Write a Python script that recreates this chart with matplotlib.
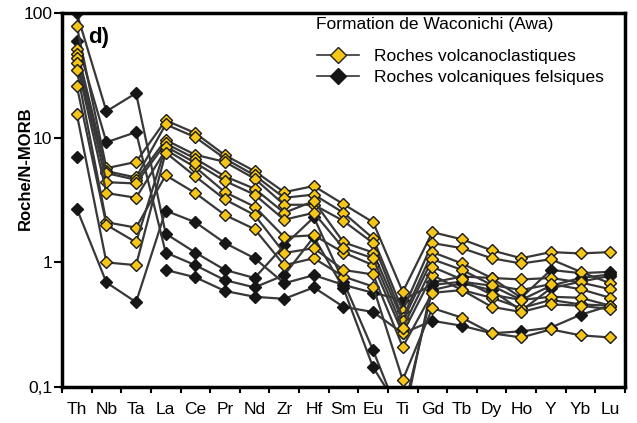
import numpy as np
import matplotlib
matplotlib.use('Agg')
import matplotlib.pyplot as plt
from matplotlib.lines import Line2D

plt.rcParams['font.family'] = ['Liberation Sans', 'DejaVu Sans']

nan = np.nan

elements = ['Th', 'Nb', 'Ta', 'La', 'Ce', 'Pr', 'Nd', 'Zr', 'Hf', 'Sm',
            'Eu', 'Ti', 'Gd', 'Tb', 'Dy', 'Ho', 'Y', 'Yb', 'Lu']

# Roches volcanoclastiques (Roche/N-MORB)
vc1 = [79, 5.7, 6.4, 13.8, 10.9, 7.25, 5.4, 3.66, 4.1, 2.93, 2.1, 0.58, 1.75, 1.53, 1.25, 1.08, 1.21, 1.18, 1.21]
vc2 = [52, 5.4, 4.8, 12.8, 10.1, 6.8, 5.0, 3.3, 3.5, 2.5, 1.56, 0.41, 1.43, 1.30, 1.08, 0.98, 1.06, 0.84, 0.68]
vc3 = [47, 5.2, 4.6, 9.6, 7.3, 6.4, 4.7, 2.9, 2.9, 2.15, 1.43, 0.36, 1.21, 0.98, 0.75, 0.73, 0.75, 0.69, 0.61]
vc4 = [44, 4.4, 4.3, 9.0, 6.8, 4.9, 3.9, 2.5, 3.1, 1.45, 1.2, 0.34, 1.06, 0.87, 0.66, 0.60, 0.67, 0.61, 0.52]
vc5 = [40, 3.6, 3.3, 8.0, 5.8, 3.66, 2.8, 1.6, 1.65, 1.2, 0.95, 0.27, 0.79, 0.60, 0.52, 0.43, 0.50, 0.46, 0.45]
vc6 = [35, 2.1, 1.9, 5.0, 3.6, 2.4, 1.85, 0.95, 1.08, 0.77, 0.64, 0.114, 0.43, 0.36, 0.27, 0.25, 0.29, 0.26, 0.25]
vc7 = [26, 2.0, 1.45, 8.5, 6.3, 4.5, 3.5, 2.2, 2.5, 1.3, 1.08, 0.30, 0.92, 0.73, 0.55, 0.50, 0.53, 0.52, 0.45]
vc8 = [15.5, 1.0, 0.95, 7.6, 4.9, 3.2, 2.4, 1.19, 1.3, 0.87, 0.8, 0.21, 0.57, 0.60, 0.44, 0.40, 0.46, 0.45, 0.42]

# Roches volcaniques felsiques
fe1 = [100, 16.3, 22.8, 1.7, 1.2, 0.87, 0.75, 1.37, 2.3, 0.70, 0.197, 0.05, 0.69, 0.77, 0.75, 0.52, 0.87, 0.82, 0.84]
fe2 = [60, 9.2, 11.1, 1.2, 0.95, 0.72, 0.63, 0.79, 1.6, 0.62, 0.144, 0.06, 0.60, 0.68, 0.60, 0.41, 0.62, 0.70, 0.78]
fe3 = [2.7, 0.69, 0.48, 2.6, 2.1, 1.43, 1.08, 0.68, 0.79, 0.66, 0.57, 0.50, 0.66, 0.70, 0.65, 0.50, 0.65, 0.75, 0.80]
fe4 = [7.0, nan, nan, 0.87, 0.76, 0.59, 0.53, 0.51, 0.63, 0.44, 0.40, 0.27, 0.34, 0.31, 0.27, 0.28, 0.30, 0.38, 0.45]

volcanoclastic = [vc1, vc2, vc3, vc4, vc5, vc6, vc7, vc8]
felsic = [fe1, fe2, fe3, fe4]

line_col = '#383838'
yellow = '#f5c518'
black = '#161616'

fig = plt.figure(figsize=(6.37, 4.23), dpi=100)
ax = fig.add_axes([0.0973, 0.085, 0.8838, 0.884])

x = np.arange(len(elements))
for row in felsic:
    ax.plot(x, row, color=line_col, lw=1.6, marker='D', ms=6.5,
            mfc=black, mec=black, zorder=2)
for row in volcanoclastic:
    ax.plot(x, row, color=line_col, lw=1.6, marker='D', ms=6,
            mfc=yellow, mec='#1a1a1a', mew=1.0, zorder=3)

ax.set_yscale('log')
ax.set_ylim(0.1, 100)
ax.set_xlim(-0.5, len(elements) - 0.5)

ax.set_yticks([0.1, 1, 10, 100])
ax.set_yticklabels(['0,1', '1', '10', '100'])
ax.yaxis.set_minor_locator(matplotlib.ticker.NullLocator())
ax.tick_params(axis='y', which='major', direction='out', length=6, width=1.5,
               labelsize=12.5, pad=1)

ax.set_xticks(x)
ax.set_xticklabels(elements)
ax.set_xticks(np.arange(-0.5, len(elements)), minor=True)
ax.tick_params(axis='x', which='major', length=0, labelsize=12.5, pad=11)
ax.tick_params(axis='x', which='minor', direction='out', length=4, width=1.5)

for sp in ax.spines.values():
    sp.set_linewidth(2.5)

fig.text(25 / 637, 1 - 168 / 423, 'Roche/N-MORB', rotation=90,
         ha='center', va='center', fontsize=12, fontweight='bold')
ax.text(0.047, 0.935, 'd)', transform=ax.transAxes, fontsize=16,
        fontweight='bold', ha='left', va='center')

# legend title and entries
fig.text(316 / 637, 1 - 25 / 423, 'Formation de Waconichi (Awa)',
         ha='left', va='center', fontsize=12.5)
handles = [
    Line2D([], [], color='#333333', lw=1.2, marker='D', ms=8,
           mfc=yellow, mec='#222222'),
    Line2D([], [], color='#333333', lw=1.2, marker='D', ms=8,
           mfc=black, mec=black),
]
leg = ax.legend(handles, ['Roches volcanoclastiques', 'Roches volcaniques felsiques'],
                loc='upper left',
                bbox_to_anchor=(305 / 637, 1 - 37 / 423), bbox_transform=fig.transFigure,
                frameon=False, fontsize=12.5,
                handlelength=2.4, handletextpad=0.9, labelspacing=0.3,
                borderpad=0.2)

fig.savefig('out.png', dpi=100)
